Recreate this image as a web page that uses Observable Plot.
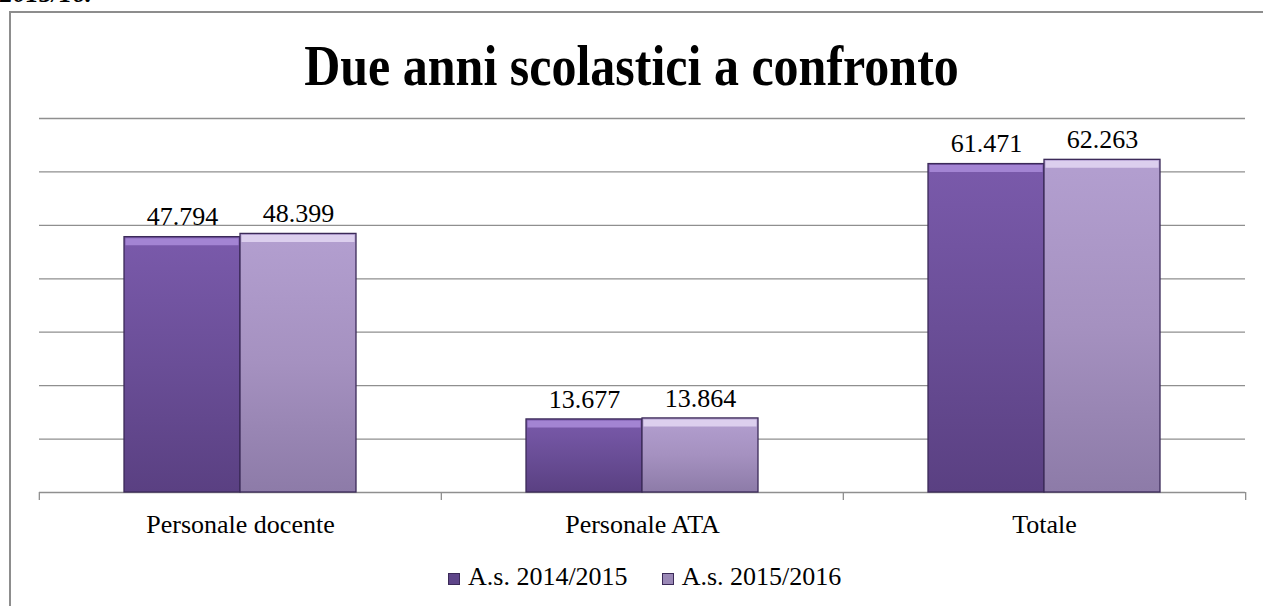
<!DOCTYPE html>
<html>
<head>
<meta charset="utf-8">
<script src="https://cdn.jsdelivr.net/npm/d3@7"></script>
<script src="https://cdn.jsdelivr.net/npm/@observablehq/plot@0.6"></script>
<style>
  html, body { margin: 0; padding: 0; background: #fff; width: 1263px; height: 606px; overflow: hidden; position: relative; }
  body { font-family: 'Liberation Serif', 'Times New Roman', serif; color: #000; }
  #frame { position: absolute; left: 9px; top: 11px; width: 1320px; height: 700px; border: 2px solid #8d8d8d; box-sizing: border-box; }
  #cut { position: absolute; left: 0px; top: -19px; font-size: 26px; line-height: 26px; font-weight: bold; font-style: italic; white-space: nowrap; }
  #title { position: absolute; left: 0; top: 43px; width: 1263px; text-align: center; font-size: 50px; line-height: 50px; font-weight: bold; transform: scaleY(1.15); transform-origin: 50% 42px; white-space: nowrap; }
  #chart { position: absolute; left: 0; top: 100px; }
  #chart svg, #chart svg text { font-family: 'Liberation Serif', 'Times New Roman', serif !important; }
  #legend { position: absolute; left: 448px; top: 562px; font-size: 26px; line-height: 30px; white-space: nowrap; display: flex; align-items: center; }
  .sw { display: inline-block; width: 12px; height: 12px; margin-right: 8px; box-sizing: border-box; border: 1px solid #3b2a58; margin-top: 4px; }
  .item { display: flex; align-items: center; }
</style>
</head>
<body>
<svg width="0" height="0" style="position:absolute">
  <defs>
    <linearGradient id="g1" x1="0" y1="0" x2="0" y2="1">
      <stop offset="0" stop-color="#7a5aab"/>
      <stop offset="0.5" stop-color="#6a4e97"/>
      <stop offset="1" stop-color="#5a4082"/>
    </linearGradient>
    <linearGradient id="g2" x1="0" y1="0" x2="0" y2="1">
      <stop offset="0" stop-color="#b39fd0"/>
      <stop offset="0.5" stop-color="#a591c0"/>
      <stop offset="1" stop-color="#8d7ba8"/>
    </linearGradient>
  </defs>
</svg>
<div id="frame"></div>
<div id="cut">2015/16.</div>
<div id="title">Due anni scolastici a confronto</div>
<div id="chart"></div>
<div id="legend"></div>
<script>
const categories = ["Personale docente", "Personale ATA", "Totale"];
const series = ["A.s. 2014/2015", "A.s. 2015/2016"];
const values2014 = [47794, 13677, 61471];
const values2015 = [48399, 13864, 62263];
const gridTicks = [10000, 20000, 30000, 40000, 50000, 60000, 70000];

const table = categories.flatMap((c, i) => [
  {cat: c, series: series[0], value: values2014[i]},
  {cat: c, series: series[1], value: values2015[i]}
]);

const fmt = d3.formatLocale({decimal: ",", thousands: ".", grouping: [3], currency: ["", ""]}).format(",");

const W = 1263, ML = 38, MR = 18;
const half = (W - ML - MR) / categories.length / 2;
const gray = "#8f8f8f";
const serif = "'Liberation Serif', 'Times New Roman', serif";

const chart = Plot.plot({
  width: W, height: 460,
  marginLeft: ML, marginRight: MR, marginTop: 18, marginBottom: 68,
  style: {fontFamily: serif, background: "transparent", color: "#000"},
  fx: {domain: categories, padding: 0, axis: null, label: null},
  x: {domain: series, paddingInner: 0, paddingOuter: 0.72, axis: null},
  y: {domain: [0, 70000], axis: null},
  color: {domain: series, range: ["url(#g1)", "url(#g2)"]},
  marks: [
    Plot.gridY({ticks: gridTicks, stroke: gray, strokeOpacity: 1, strokeWidth: 1.3}),
    Plot.ruleY([0], {stroke: gray, strokeWidth: 1.3}),
    Plot.axisFx({anchor: "bottom", tickSize: 8, tickFormat: () => "", dx: -half, stroke: gray, strokeWidth: 1.3, label: null}),
    Plot.axisFx({anchor: "bottom", ticks: [categories[categories.length - 1]], tickSize: 8, tickFormat: () => "", dx: half, stroke: gray, strokeWidth: 1.3, label: null}),
    Plot.axisFx({anchor: "bottom", tickSize: 0, tickPadding: 22, fontSize: 26, fontFamily: serif, fill: "#000", label: null}),
    Plot.barY(table, {fx: "cat", x: "series", y: "value", fill: "series", stroke: "#3b2a58", strokeWidth: 1.3}),
    Plot.tickY(table.filter(d => d.series === series[0]), {fx: "cat", x: "series", y: "value", stroke: "#a384d3", strokeWidth: 7, dy: 4.5, insetLeft: 1.5, insetRight: 1.5}),
    Plot.tickY(table.filter(d => d.series === series[1]), {fx: "cat", x: "series", y: "value", stroke: "#dccfee", strokeWidth: 7, dy: 4.5, insetLeft: 1.5, insetRight: 1.5}),
    Plot.text(table, {fx: "cat", x: "series", y: "value", text: d => fmt(d.value), dy: -20, fontSize: 26, fontFamily: serif, fill: "#000"})
  ]
});
document.getElementById("chart").appendChild(chart);

const swatchColors = ["#5e4589", "#9a88b6"];
const legend = document.getElementById("legend");
series.forEach((s, i) => {
  const item = document.createElement("div");
  item.className = "item";
  if (i > 0) item.style.marginLeft = "34px";
  const sw = document.createElement("span");
  sw.className = "sw";
  sw.style.background = swatchColors[i];
  item.appendChild(sw);
  const t = document.createElement("span");
  t.textContent = s;
  item.appendChild(t);
  legend.appendChild(item);
});
</script>
</body>
</html>
